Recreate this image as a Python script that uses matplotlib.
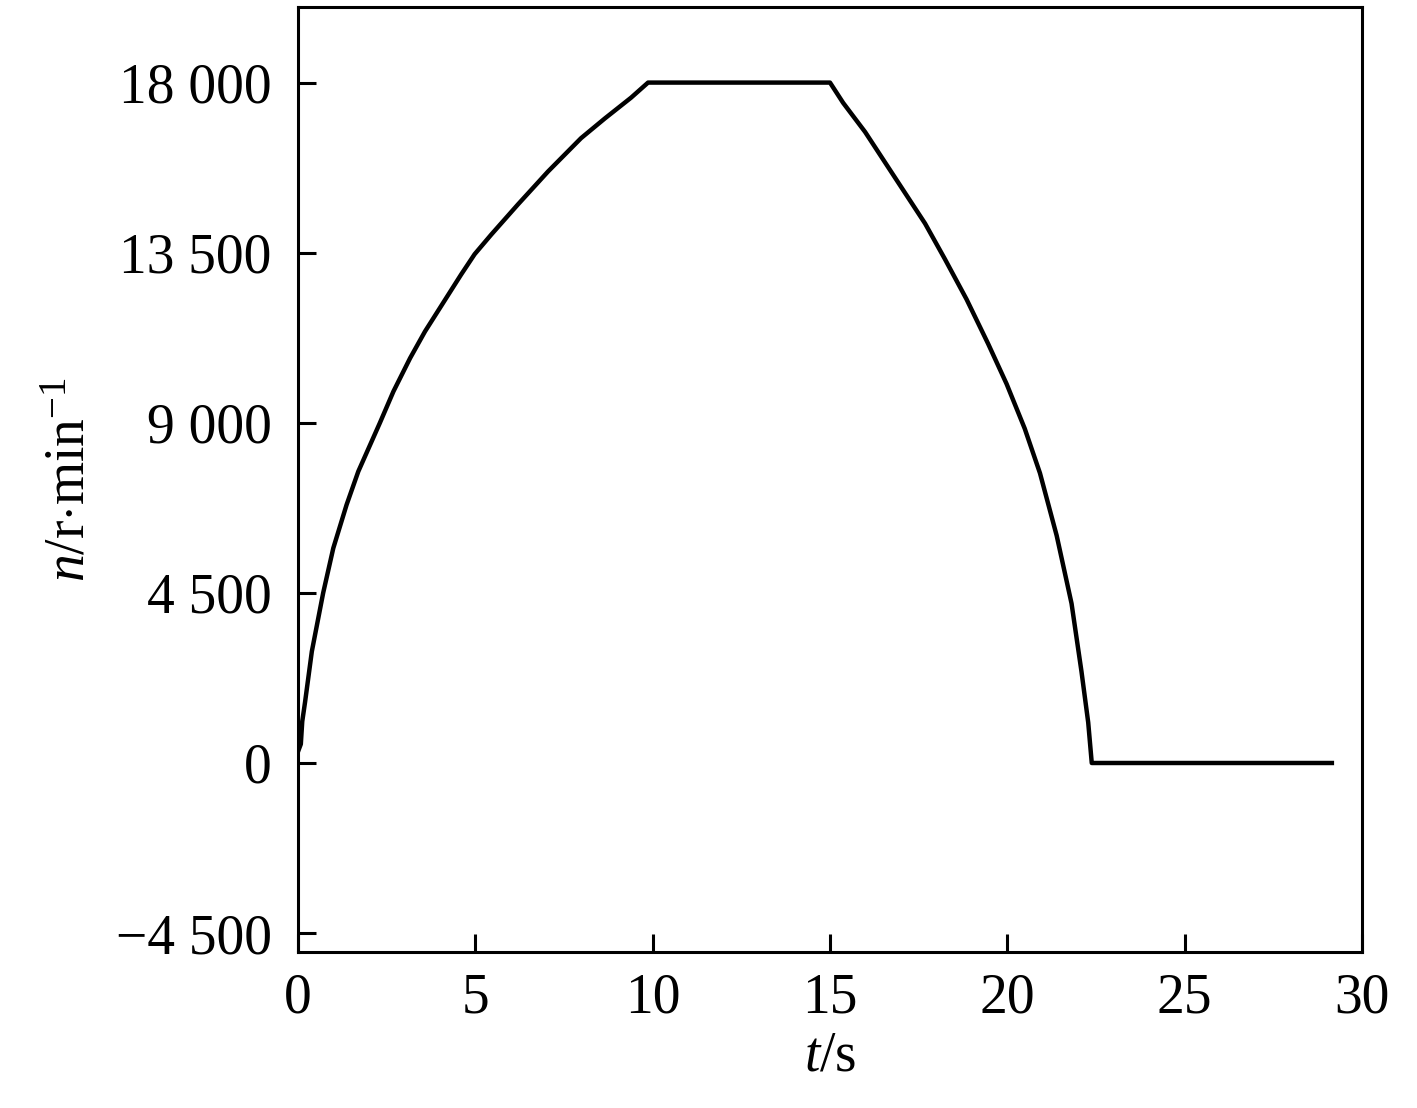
import matplotlib
matplotlib.use('Agg')
import matplotlib.pyplot as plt

plt.rcParams['font.family'] = ['Liberation Serif', 'DejaVu Serif']
plt.rcParams['mathtext.fontset'] = 'custom'
plt.rcParams['mathtext.rm'] = 'Liberation Serif'
plt.rcParams['mathtext.it'] = 'Liberation Serif:italic'

# 转速曲线
t_s = [0.0, 0.08, 0.12, 0.2, 0.39, 0.71, 0.995, 1.37, 1.7, 2.31, 2.69, 3.16, 3.58, 4.6, 4.98,
       5.45, 6.2, 7.05, 7.98, 8.65, 9.39, 9.87,
       15.0, 15.37, 15.99, 17.68, 18.24, 18.85, 19.46, 19.98, 20.49, 20.92, 21.39,
       21.81, 22.09, 22.28, 22.38, 29.15]
n_rpm = [300, 500, 1100, 1617, 2950, 4500, 5683, 6831, 7712, 9000, 9828, 10709, 11415, 12923, 13460,
         13980, 14775, 15648, 16529, 17050, 17600, 18000,
         18000, 17464, 16693, 14272, 13330, 12267, 11087, 10026, 8847, 7667, 6019,
         4220, 2421, 1071, 0, 0]

y_ticks = [-4500, 0, 4500, 9000, 13500, 18000]
y_labels = ['\u22124 500', '0', '4 500', '9 000', '13 500', '18 000']
x_ticks = [0, 5, 10, 15, 20, 25, 30]

fig = plt.figure(figsize=(14.17, 11.08), dpi=100)
ax = fig.add_axes([0.2103, 0.1408, 0.7509, 0.8529])
ax.plot(t_s, n_rpm, color='black', lw=3.2)

ax.set_xlim(0, 30)
ax.set_ylim(-5000, 20000)
ax.set_xticks(x_ticks)
ax.set_yticks(y_ticks)
ax.set_yticklabels(y_labels)
ax.tick_params(direction='in', length=13, width=2.2, labelsize=40, pad=15)
ax.tick_params(axis='y', pad=19)
for sp in ax.spines.values():
    sp.set_linewidth(2.2)

ax.set_xlabel(r'$t$/s', fontsize=40, labelpad=4)
ax.set_ylabel(r'$n$/r$\cdot$min$^{-1}$', fontsize=40, labelpad=14)

fig.savefig('out.png', dpi=100)
